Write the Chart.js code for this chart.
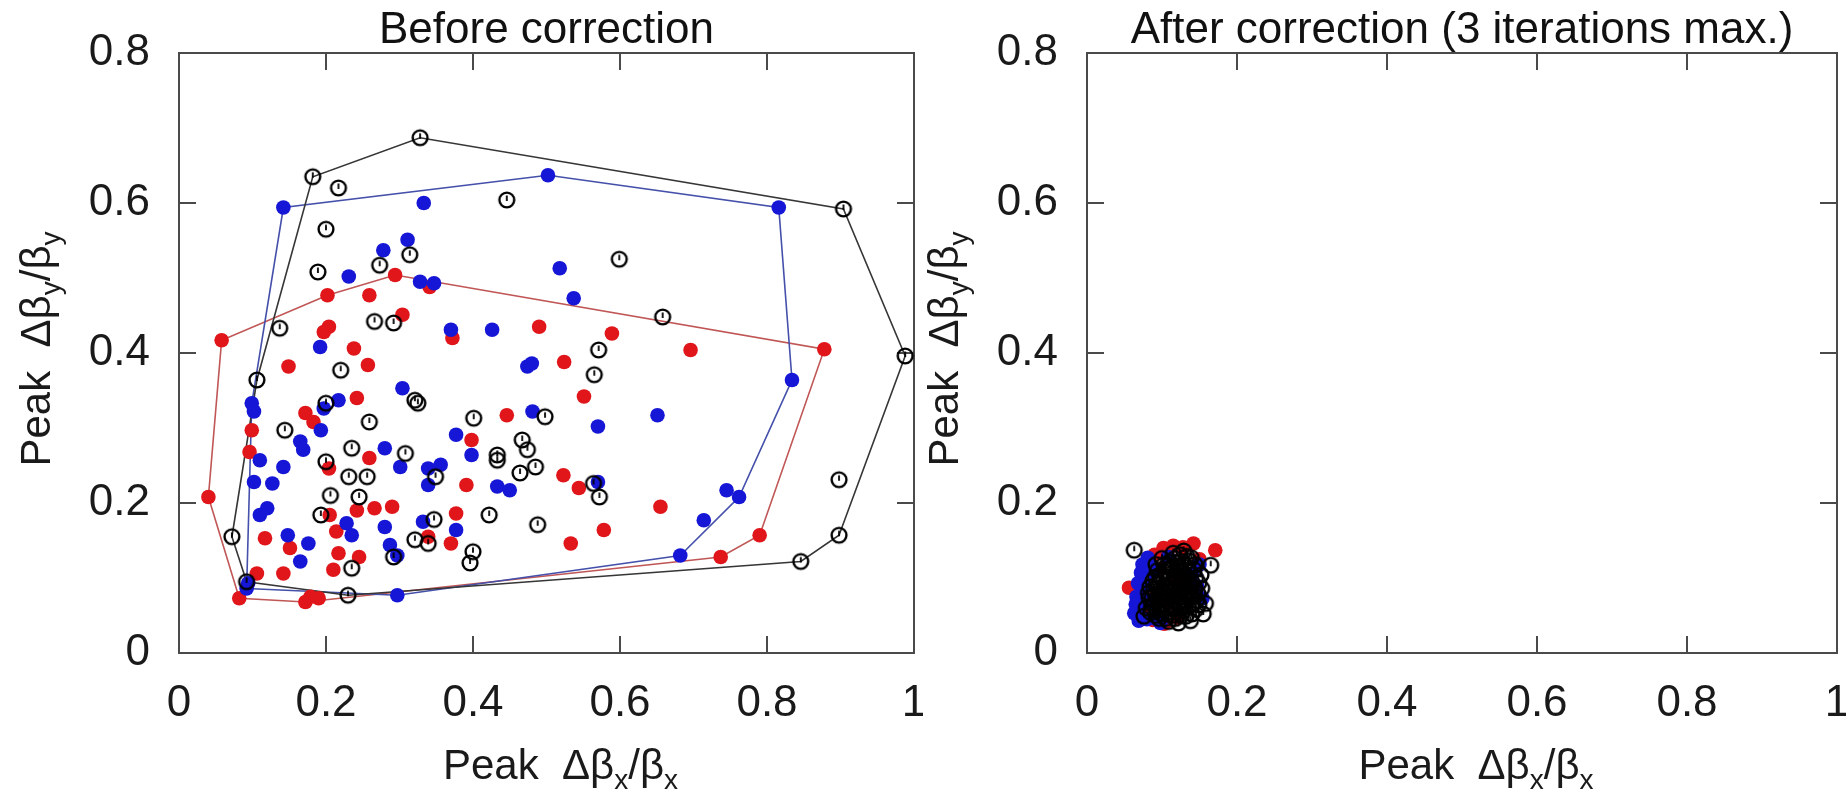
<!DOCTYPE html>
<html>
<head>
<meta charset="utf-8">
<title>Peak beta-beat before / after correction</title>
<script src="https://cdn.jsdelivr.net/npm/chart.js@4.4.1/dist/chart.umd.min.js"></script>
<style>
  html, body { margin: 0; padding: 0; background: #fff; }
  .wrap { position: relative; width: 1846px; height: 791px; overflow: hidden; }
  canvas { position: absolute; top: 0; }
  #chartBefore { left: 0; }
  #chartAfter  { left: 923px; }
</style>
</head>
<body>
<div class="wrap">
  <canvas id="chartBefore" width="923" height="791"></canvas>
  <canvas id="chartAfter"  width="923" height="791"></canvas>
</div>
<script>
/* ── Axis ticks ──────────────────────────────────────────────────────── */
const xTicks = [0, 0.2, 0.4, 0.6, 0.8, 1];
const xTickLabels = ["0", "0.2", "0.4", "0.6", "0.8", "1"];
const yTicks = [0, 0.2, 0.4, 0.6, 0.8];
const yTickLabels = ["0", "0.2", "0.4", "0.6", "0.8"];

/* ── Before correction: [peak dbx/bx, peak dby/by] ───────────────────── */
const beforeBlack = [
  [0.328,0.687],[0.182,0.635],[0.217,0.620],[0.446,0.604],[0.904,0.592],[0.200,0.565],
  [0.599,0.525],[0.189,0.508],[0.273,0.517],[0.314,0.531],[0.658,0.448],[0.137,0.433],
  [0.266,0.442],[0.292,0.440],[0.571,0.404],[0.988,0.396],[0.220,0.377],[0.565,0.371],
  [0.106,0.364],[0.200,0.333],[0.321,0.337],[0.325,0.333],[0.144,0.297],[0.259,0.308],
  [0.401,0.313],[0.498,0.315],[0.467,0.284],[0.474,0.271],[0.235,0.273],[0.308,0.266],
  [0.433,0.264],[0.433,0.257],[0.200,0.255],[0.485,0.248],[0.464,0.240],[0.231,0.235],
  [0.256,0.235],[0.349,0.235],[0.564,0.226],[0.572,0.208],[0.898,0.231],[0.206,0.210],
  [0.245,0.208],[0.422,0.184],[0.193,0.184],[0.347,0.178],[0.488,0.171],[0.072,0.155],
  [0.321,0.151],[0.339,0.146],[0.400,0.135],[0.396,0.120],[0.292,0.128],[0.235,0.113],
  [0.898,0.157],[0.846,0.122],[0.092,0.095],[0.230,0.077]
];
const beforeBlue = [
  [0.502,0.637],[0.142,0.594],[0.333,0.600],[0.816,0.594],[0.311,0.551],[0.278,0.537],
  [0.231,0.502],[0.518,0.513],[0.328,0.495],[0.347,0.493],[0.537,0.473],[0.370,0.431],
  [0.426,0.431],[0.192,0.408],[0.474,0.382],[0.480,0.386],[0.834,0.364],[0.304,0.353],
  [0.217,0.337],[0.197,0.326],[0.099,0.333],[0.102,0.322],[0.193,0.297],[0.165,0.282],
  [0.169,0.271],[0.280,0.273],[0.377,0.291],[0.481,0.322],[0.570,0.302],[0.651,0.317],
  [0.110,0.257],[0.142,0.248],[0.301,0.248],[0.339,0.246],[0.356,0.251],[0.398,0.264],
  [0.102,0.228],[0.127,0.226],[0.339,0.224],[0.433,0.222],[0.450,0.217],[0.570,0.228],
  [0.745,0.217],[0.762,0.208],[0.110,0.184],[0.120,0.193],[0.228,0.173],[0.235,0.157],
  [0.280,0.168],[0.332,0.175],[0.377,0.164],[0.714,0.177],[0.148,0.157],[0.176,0.146],
  [0.287,0.144],[0.297,0.130],[0.165,0.122],[0.682,0.130],[0.092,0.086],[0.094,0.093],
  [0.297,0.077]
];
const beforeRed = [
  [0.294,0.504],[0.341,0.488],[0.202,0.477],[0.259,0.477],[0.304,0.451],[0.058,0.417],
  [0.204,0.435],[0.197,0.428],[0.372,0.420],[0.490,0.435],[0.589,0.426],[0.696,0.404],
  [0.878,0.405],[0.238,0.406],[0.149,0.382],[0.257,0.384],[0.524,0.388],[0.242,0.340],
  [0.551,0.342],[0.099,0.297],[0.172,0.320],[0.183,0.308],[0.446,0.317],[0.398,0.284],
  [0.096,0.268],[0.259,0.260],[0.204,0.246],[0.523,0.237],[0.391,0.224],[0.544,0.220],
  [0.040,0.208],[0.655,0.195],[0.266,0.193],[0.290,0.195],[0.205,0.184],[0.242,0.190],
  [0.377,0.186],[0.578,0.164],[0.214,0.162],[0.117,0.153],[0.151,0.140],[0.339,0.155],
  [0.370,0.146],[0.533,0.146],[0.790,0.157],[0.217,0.133],[0.245,0.128],[0.737,0.128],
  [0.210,0.111],[0.106,0.106],[0.142,0.106],[0.082,0.073],[0.172,0.068],[0.190,0.073],
  [0.179,0.075]
];

/* ── After correction (3 iterations max.) ────────────────────────────── */
const afterBlack = [
  [0.063,0.137],[0.165,0.117],[0.100,0.126],[0.113,0.115],[0.126,0.122],[0.139,0.127],
  [0.091,0.101],[0.104,0.108],[0.118,0.098],[0.131,0.103],[0.143,0.111],[0.084,0.088],
  [0.097,0.084],[0.110,0.091],[0.123,0.087],[0.136,0.082],[0.149,0.093],[0.087,0.074],
  [0.101,0.070],[0.114,0.077],[0.127,0.069],[0.141,0.074],[0.079,0.060],[0.093,0.057],
  [0.106,0.061],[0.119,0.055],[0.132,0.049],[0.145,0.058],[0.096,0.046],[0.109,0.042],
  [0.122,0.040],[0.138,0.043],[0.155,0.052],[0.158,0.066],[0.092,0.118],[0.076,0.049],
  [0.115,0.133],[0.129,0.136],[0.095,0.093],[0.108,0.099],[0.121,0.109],[0.134,0.114],
  [0.102,0.080],[0.116,0.084],[0.129,0.093],[0.089,0.066],[0.112,0.066],[0.125,0.061],
  [0.099,0.052],[0.113,0.050],[0.128,0.056],[0.141,0.065],[0.148,0.079],[0.106,0.116],
  [0.120,0.121],[0.133,0.129],[0.085,0.054],[0.104,0.090],[0.117,0.071],[0.131,0.077],
  [0.144,0.085],[0.152,0.104],[0.094,0.110],[0.082,0.080],[0.118,0.046],[0.135,0.062],
  [0.126,0.100],[0.111,0.105],[0.088,0.096],[0.094,0.086],[0.099,0.077],[0.105,0.072],
  [0.110,0.083],[0.115,0.093],[0.120,0.079],[0.124,0.074],[0.129,0.084],[0.134,0.090],
  [0.139,0.096],[0.143,0.078],[0.146,0.070],[0.137,0.108],[0.130,0.118],[0.123,0.114],
  [0.117,0.126],[0.110,0.121],[0.103,0.118],[0.097,0.104],[0.091,0.079],[0.086,0.061],
  [0.092,0.050],[0.100,0.063],[0.107,0.054],[0.114,0.060],[0.121,0.066],[0.126,0.050],
  [0.133,0.070],[0.140,0.052],[0.149,0.064],[0.153,0.086],[0.145,0.100],[0.136,0.123],
  [0.124,0.131],[0.102,0.099],[0.096,0.065],[0.083,0.073],[0.089,0.085],[0.108,0.086],
  [0.119,0.088],[0.127,0.107],[0.139,0.089],[0.112,0.112],[0.098,0.072],[0.130,0.063],
  [0.116,0.101],[0.105,0.046],[0.124,0.093],[0.144,0.118]
];
const afterBlue = [
  [0.081,0.127],[0.072,0.107],[0.154,0.073],[0.063,0.053],[0.066,0.075],[0.070,0.062],
  [0.080,0.045],[0.069,0.043],[0.068,0.093],[0.074,0.118],[0.076,0.090],[0.083,0.068],
  [0.091,0.046],[0.098,0.040],[0.147,0.089],[0.150,0.118],[0.088,0.107],[0.073,0.082],
  [0.086,0.115],[0.108,0.128],[0.140,0.104],[0.065,0.065]
];
const afterRed = [
  [0.142,0.146],[0.171,0.137],[0.102,0.140],[0.056,0.087],[0.115,0.143],[0.128,0.141],
  [0.090,0.131],[0.150,0.125],[0.118,0.104],[0.097,0.112],[0.125,0.081],[0.108,0.066],
  [0.103,0.039],[0.121,0.047],[0.093,0.079],[0.131,0.095],[0.074,0.052],[0.088,0.044]
];

/* ── Styling ─────────────────────────────────────────────────────────── */
const FONT = "'Liberation Sans', Arial, Helvetica, sans-serif";
const RED = "#e0161b";
const BLUE = "#1616d6";
Chart.defaults.font.family = FONT;
Chart.defaults.color = "#1a1a1a";

/* open circle with a small stroke inside (gnuplot-like marker) */
function ringMark() {
  const c = document.createElement("canvas");
  c.width = 22; c.height = 22;
  const g = c.getContext("2d");
  g.strokeStyle = "#000";
  g.lineWidth = 2.4;
  g.beginPath(); g.arc(11, 11, 7.4, 0, Math.PI * 2); g.stroke();
  g.lineWidth = 1.8;
  g.beginPath(); g.moveTo(11, 6.5); g.lineTo(11, 12); g.stroke();
  return c;
}
const ring = ringMark();

/* convex hull (monotone chain) of a point list, closed */
function hull(pts) {
  const p = pts.slice().sort((a, b) => a[0] - b[0] || a[1] - b[1]);
  const cross = (o, a, b) => (a[0] - o[0]) * (b[1] - o[1]) - (a[1] - o[1]) * (b[0] - o[0]);
  const lo = [], up = [];
  for (const q of p) {
    while (lo.length >= 2 && cross(lo[lo.length - 2], lo[lo.length - 1], q) <= 0) lo.pop();
    lo.push(q);
  }
  for (const q of p.slice().reverse()) {
    while (up.length >= 2 && cross(up[up.length - 2], up[up.length - 1], q) <= 0) up.pop();
    up.push(q);
  }
  lo.pop(); up.pop();
  const h = lo.concat(up);
  h.push(h[0]);
  return h;
}

const xy = (arr) => arr.map(([x, y]) => ({ x, y }));

function dots(arr, color) {
  return { data: xy(arr), pointRadius: 7.3, pointBackgroundColor: color,
           pointBorderWidth: 0, showLine: false, clip: false };
}
function rings(arr) {
  return { data: xy(arr), pointStyle: ring, pointRadius: 8, showLine: false, clip: false };
}
function hullLine(arr, color) {
  return { data: xy(hull(arr)), showLine: true, borderColor: color, borderWidth: 1.6,
           pointRadius: 0, fill: false, tension: 0, clip: false };
}

/* frame + inward ticks on all four sides */
const framePlugin = {
  id: "frame",
  beforeDatasetsDraw(chart) {
    const { ctx, chartArea: a, scales: { x, y } } = chart;
    const tl = 17;
    ctx.save();
    ctx.strokeStyle = "#4a4a4a";
    ctx.lineWidth = 2;
    ctx.strokeRect(a.left, a.top, a.right - a.left, a.bottom - a.top);
    ctx.beginPath();
    xTicks.forEach((v) => {
      const px = x.getPixelForValue(v);
      ctx.moveTo(px, a.bottom); ctx.lineTo(px, a.bottom - tl);
      ctx.moveTo(px, a.top);    ctx.lineTo(px, a.top + tl);
    });
    yTicks.forEach((v) => {
      const py = y.getPixelForValue(v);
      ctx.moveTo(a.left, py);  ctx.lineTo(a.left + tl, py);
      ctx.moveTo(a.right, py); ctx.lineTo(a.right - tl, py);
    });
    ctx.stroke();
    ctx.restore();
  },
};

/* axis titles with subscripts: Peak Δβx/βx and Peak Δβy/βy */
function drawSubText(ctx, parts, size) {
  const big = `${size}px ${FONT}`, small = `${Math.round(size * 0.66)}px ${FONT}`;
  let w = 0;
  parts.forEach(([t, sub]) => { ctx.font = sub ? small : big; w += ctx.measureText(t).width; });
  let cx = -w / 2;
  parts.forEach(([t, sub]) => {
    ctx.font = sub ? small : big;
    ctx.fillText(t, cx, sub ? size * 0.24 : 0);
    cx += ctx.measureText(t).width;
  });
}
const axisTitlePlugin = {
  id: "axisTitles",
  afterDraw(chart, args, opts) {
    const { ctx, chartArea: a } = chart;
    ctx.save();
    ctx.fillStyle = "#1a1a1a";
    ctx.textBaseline = "alphabetic";
    ctx.textAlign = "left";
    ctx.save();
    ctx.translate((a.left + a.right) / 2 + opts.xShift, opts.xBaseY);
    drawSubText(ctx, [["Peak  \u0394\u03b2", false], ["x", true], ["/\u03b2", false], ["x", true]], opts.size);
    ctx.restore();
    ctx.save();
    ctx.translate(opts.yBaseX, (a.top + a.bottom) / 2 - 4);
    ctx.rotate(-Math.PI / 2);
    drawSubText(ctx, [["Peak  \u0394\u03b2", false], ["y", true], ["/\u03b2", false], ["y", true]], opts.size);
    ctx.restore();
    ctx.restore();
  },
};

function buildOptions(titleText, yAxisWidth, yBaseX) {
  return {
    responsive: false,
    animation: false,
    events: [],
    layout: { padding: { top: 0, right: 9, bottom: 0, left: 0 } },
    plugins: {
      legend: { display: false },
      tooltip: { enabled: false },
      title: {
        display: true, text: titleText, fullSize: false, color: "#111",
        font: { size: 44, lineHeight: 1, weight: "normal" },
        padding: { top: 9, bottom: 0 },
      },
      axisTitles: { xBaseY: 779, yBaseX: yBaseX, xShift: 14, size: 42 },
    },
    scales: {
      x: {
        type: "linear", min: 0, max: 1,
        grid: { display: false, drawTicks: false }, border: { display: false },
        afterBuildTicks: (s) => { s.ticks = xTicks.map((v) => ({ value: v })); },
        // fixed axis band; drop the label overflow padding so the plot keeps its width
        afterFit: (s) => { s.height = 138; s.paddingLeft = 0; s.paddingRight = 0; },
        ticks: { padding: 24, font: { size: 44 }, color: "#1a1a1a",
                 maxRotation: 0, autoSkip: false, callback: (v, i) => xTickLabels[i] },
      },
      y: {
        type: "linear", min: 0, max: 0.8,
        grid: { display: false, drawTicks: false }, border: { display: false },
        afterBuildTicks: (s) => { s.ticks = yTicks.map((v) => ({ value: v })); },
        afterFit: (s) => { s.width = yAxisWidth; s.paddingTop = 0; s.paddingBottom = 0; },
        ticks: { padding: 29, font: { size: 44 }, color: "#1a1a1a",
                 autoSkip: false, callback: (v, i) => yTickLabels[i] },
      },
    },
  };
}

/* ── Left: before correction ─────────────────────────────────────────── */
new Chart(document.getElementById("chartBefore"), {
  type: "scatter",
  data: {
    datasets: [
      rings(beforeBlack),
      dots(beforeBlue, BLUE),
      dots(beforeRed, RED),
      hullLine(beforeBlack, "#363636"),
      hullLine(beforeBlue, "#4450aa"),
      hullLine(beforeRed, "#c05656"),
    ],
  },
  options: buildOptions("Before correction", 179, 50),
  plugins: [framePlugin, axisTitlePlugin],
});

/* ── Right: after correction ─────────────────────────────────────────── */
new Chart(document.getElementById("chartAfter"), {
  type: "scatter",
  data: {
    datasets: [
      rings(afterBlack),
      dots(afterBlue, BLUE),
      dots(afterRed, RED),
    ],
  },
  options: buildOptions("After correction (3 iterations max.)", 164, 35),
  plugins: [framePlugin, axisTitlePlugin],
});
</script>
</body>
</html>
